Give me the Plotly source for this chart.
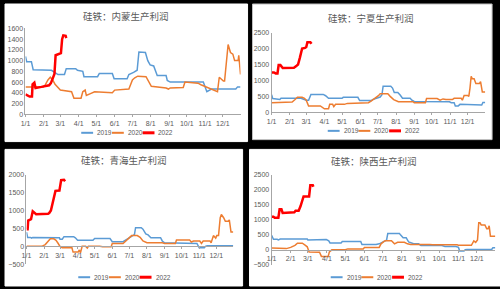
import plotly.graph_objects as go

# ---------------- data ----------------
series_names = ["2019", "2020", "2022"]
series_colors = ["#5B9BD5", "#ED7D31", "#FF0000"]
series_widths = [1.5, 1.5, 2.5]

titles = ["硅铁：内蒙生产利润", "硅铁：宁夏生产利润", "硅铁：青海生产利润", "硅铁：陕西生产利润"]
month_ticks = ["1/1", "2/1", "3/1", "4/1", "5/1", "6/1", "7/1", "8/1", "9/1", "10/1", "11/1", "12/1"]

# 内蒙
nm_2019_d = ["01-01","01-03","01-11","01-14","02-14","02-19","02-25","03-08","03-11","03-27","03-30","04-08","04-10","05-03","05-06","05-28","05-31","06-22","06-25","07-03","07-09","07-12","07-23","07-27","07-31","08-06","08-09","08-12","08-27","08-29","09-03","09-25","10-29","11-04","11-12","12-23","12-26","12-31"]
nm_2019_v = [1080,980,980,830,820,780,740,740,850,850,820,800,700,700,760,760,660,660,740,780,820,1160,1150,1000,920,900,800,720,720,630,600,600,600,420,470,470,510,510]
nm_2020_d = ["01-01","01-31","02-03","02-08","02-12","02-16","02-20","02-25","03-01","03-20","03-24","04-05","04-08","04-12","04-14","04-20","04-28","05-28","06-01","06-25","06-28","07-01","07-05","07-10","07-24","07-30","08-02","08-27","08-31","09-03","09-25","09-28","10-20","10-25","11-01","11-10","11-22","11-25","12-02","12-04","12-07","12-10","12-14","12-18","12-21","12-27","12-28","12-30","12-31"]
nm_2020_v = [510,510,540,640,690,640,560,500,450,420,300,300,420,450,350,380,420,400,450,470,550,640,680,710,700,580,520,490,470,490,500,600,580,550,520,470,420,690,620,620,1000,1300,1150,1120,1000,1000,1100,740,740]
nm_2022_d = ["01-01","01-05","01-08","01-12","01-13","01-16","01-18","01-28","02-05","02-10","02-13","02-16","02-19","02-21","02-26","03-02","03-04","03-06","03-10","03-11"]
nm_2022_v = [370,340,330,330,560,590,490,510,520,540,580,650,750,1100,1120,1140,1400,1470,1460,1420]

# 宁夏
nx_2019_d = ["01-01","01-03","01-15","01-17","02-20","03-01","03-05","03-09","03-30","04-03","04-08","05-01","05-03","05-28","05-31","06-20","06-22","06-30","07-05","07-08","07-10","07-23","07-26","07-29","08-04","08-08","08-12","08-25","08-28","09-01","10-31","11-03","11-08","11-10","11-15","11-18","12-20","12-25","12-27","12-31"]
nx_2019_v = [550,430,400,440,440,380,380,560,560,520,440,440,470,470,370,370,400,440,480,550,820,820,760,620,620,540,440,440,380,340,330,300,300,200,200,250,250,230,310,310]
nx_2020_d = ["01-01","01-31","02-05","02-10","02-14","02-22","02-26","03-01","03-05","03-25","03-28","04-01","04-08","04-10","04-15","04-17","04-20","05-05","05-10","05-30","06-01","06-15","06-20","06-28","07-02","07-05","07-18","07-22","07-28","08-05","08-30","09-01","09-20","09-22","10-10","10-15","10-20","10-25","11-05","11-08","11-20","11-22","11-25","12-01","12-03","12-05","12-07","12-09","12-12","12-15","12-21","12-23","12-26","12-31"]
nx_2020_v = [300,300,320,400,470,470,440,380,200,200,150,110,110,250,250,180,250,250,280,280,300,300,360,460,520,580,580,500,400,330,330,300,300,430,430,380,420,400,400,440,440,380,530,530,500,760,1130,1050,1050,900,900,960,640,640]
nx_2022_d = ["01-01","01-05","01-08","01-11","01-13","01-16","01-20","02-08","02-12","02-15","02-18","02-22","02-27","03-01","03-03","03-08","03-10"]
nx_2022_v = [1250,1250,1220,1220,1480,1480,1390,1400,1450,1500,1700,2000,2020,2050,2200,2200,2150]

# 青海
qh_2019_d = ["01-01","01-03","01-08","01-10","01-12","02-28","03-01","03-05","03-08","03-25","03-28","04-01","04-28","05-01","05-28","06-01","06-20","06-22","06-30","07-08","07-10","07-12","07-22","07-25","07-30","08-03","08-08","08-25","08-28","09-01","10-25","10-28","11-01","11-10","11-12","11-15","12-31"]
qh_2019_v = [400,250,250,230,250,240,200,200,270,270,240,170,170,220,220,130,130,150,220,300,330,520,520,480,350,320,240,240,150,100,100,80,-40,-40,0,20,20]
qh_2020_d = ["01-01","01-28","02-03","02-08","02-12","02-18","02-22","02-25","03-01","03-05","03-22","03-24","04-02","04-04","04-06","04-09","04-15","04-18","04-20","05-10","05-15","05-30","06-01","06-20","06-25","06-28","07-03","07-05","07-15","07-20","07-25","08-01","08-28","09-01","09-20","09-22","10-15","10-18","10-22","11-02","11-05","11-08","11-20","11-22","11-26","11-30","12-02","12-05","12-08","12-10","12-14","12-17","12-22","12-24","12-27","12-31"]
qh_2020_v = [0,0,50,150,210,210,170,100,0,-40,-40,-160,-160,-100,-180,0,0,-50,0,0,-10,-10,80,80,150,200,280,300,300,250,150,100,100,80,80,180,180,120,150,150,80,150,150,100,300,230,300,300,800,890,800,700,700,740,400,400]
qh_2022_d = ["01-01","01-03","01-04","01-09","01-12","01-15","01-18","02-08","02-10","02-13","02-16","02-18","02-21","02-28","03-03","03-08","03-10"]
qh_2022_v = [480,480,720,760,980,950,900,910,930,1000,1200,1300,1550,1560,1850,1860,1820]

# 陕西
sx_2019_d = ["01-01","01-04","01-10","01-12","01-15","02-28","03-01","03-05","03-08","03-31","04-04","04-06","04-24","04-26","05-26","05-28","06-20","06-25","07-03","07-07","07-09","07-28","07-30","08-03","08-08","08-12","08-20","08-28","09-01","10-05","10-10","10-28","11-01","11-03","11-10","11-12","11-15","12-25","12-27","12-31"]
sx_2019_v = [480,350,350,330,360,360,330,330,340,340,300,230,230,280,280,180,180,200,280,320,540,540,490,400,400,260,200,200,140,140,110,110,80,-40,-40,0,10,10,70,70]
sx_2020_d = ["01-01","01-20","01-25","02-01","02-08","02-12","02-20","02-25","02-28","03-03","03-20","03-23","04-03","04-05","04-09","05-01","05-05","05-30","06-01","06-25","06-28","07-03","07-05","07-15","07-20","07-25","08-05","08-10","08-15","09-15","09-20","10-30","11-01","11-15","11-22","11-26","11-29","12-02","12-04","12-06","12-08","12-14","12-17","12-19","12-21","12-23","12-31"]
sx_2020_v = [60,60,40,80,150,220,220,150,100,-70,-80,-220,-220,-70,0,0,30,30,80,80,200,280,300,300,200,250,250,200,180,180,170,170,150,150,150,300,250,330,900,900,830,830,700,700,800,450,450]
sx_2022_d = ["01-01","01-04","01-06","01-12","01-14","01-17","01-19","02-07","02-09","02-14","02-17","02-19","02-22","03-03","03-05","03-09","03-10"]
sx_2022_v = [1100,1100,1070,1070,1350,1350,1230,1250,1300,1300,1450,1600,1780,1780,2150,2150,2100]

panel_series = [
    [(nm_2019_d, nm_2019_v), (nm_2020_d, nm_2020_v), (nm_2022_d, nm_2022_v)],
    [(nx_2019_d, nx_2019_v), (nx_2020_d, nx_2020_v), (nx_2022_d, nx_2022_v)],
    [(qh_2019_d, qh_2019_v), (qh_2020_d, qh_2020_v), (qh_2022_d, qh_2022_v)],
    [(sx_2019_d, sx_2019_v), (sx_2020_d, sx_2020_v), (sx_2022_d, sx_2022_v)],
]
y_ranges = [(0, 1600, 200), (0, 2500, 500), (-500, 2000, 500), (-500, 2500, 500)]

# ---------------- layout geometry (pixels of a 500x289 canvas) ----------------
W, H = 500, 289
# plot area: x of Jan 1, x of Dec 31, y(px) of range min, y(px) of range max, y(px) of zero
plot_px = [
    (20.7, 237.9, 113.0, 25.0, 113.0),
    (269.3, 485.1, 111.0, 29.3, 111.0),
    (21.7, 230.6, 266.7, 175.0, 248.3),
    (269.3, 495.3, 267.3, 175.0, 251.7),
]
title_px = [(122, 12), (370, 14), (120, 160), (373, 161)]
legend_px = [(77, 132), (326, 130), (74, 280), (329, 280)]
panel_rects = [(0, 0, 245, 141), (250, 0, 492, 139), (0, 149, 240, 289), (247, 149, 500, 289)]

def px(x):
    return x / W

def py(y):
    return 1 - y / H

AXIS_COLOR = "#A6A6A6"
TEXT_COLOR = "#595959"
TICK_FONT = dict(family="Liberation Sans, Arial, sans-serif", size=7, color=TEXT_COLOR)

fig = go.Figure()
layout = dict(
    width=W, height=H, margin=dict(l=0, r=0, t=0, b=0),
    paper_bgcolor="black", plot_bgcolor="rgba(0,0,0,0)",
    showlegend=False, shapes=[], annotations=[],
)

for i in range(4):
    sfx = "" if i == 0 else str(i + 1)
    x0, x1, yb, yt, yz = plot_px[i]
    ymin, ymax, dt = y_ranges[i]
    xa = dict(
        domain=[px(x0), px(x1)], type="date",
        range=["2021-01-01", "2021-12-31"],
        tickmode="array",
        tickvals=["2021-%02d-01" % (m + 1) for m in range(12)],
        ticktext=month_ticks,
        showline=True, linecolor=AXIS_COLOR, linewidth=1,
        ticks="outside", ticklen=2, tickcolor=AXIS_COLOR,
        tickfont=TICK_FONT, showgrid=False, zeroline=False, fixedrange=True,
    )
    if ymin < 0:
        xa.update(anchor="free", position=py(yz))
    else:
        xa.update(anchor="y" + sfx)
    ya = dict(
        domain=[py(yb), py(yt)], range=[ymin, ymax], dtick=dt, tick0=0,
        anchor="x" + sfx, showline=True, linecolor=AXIS_COLOR, linewidth=1,
        ticks="", tickfont=TICK_FONT, showgrid=False, zeroline=False, fixedrange=True,
    )
    layout["xaxis" + sfx] = xa
    layout["yaxis" + sfx] = ya

    for k, (dates, vals) in enumerate(panel_series[i]):
        fig.add_trace(go.Scatter(
            x=["2021-" + d for d in dates], y=vals, mode="lines",
            name=series_names[k],
            line=dict(color=series_colors[k], width=series_widths[k]),
            xaxis="x" + sfx, yaxis="y" + sfx, hoverinfo="skip",
        ))

    # white panel background
    rx0, ry0, rx1, ry1 = panel_rects[i]
    layout["shapes"].append(dict(
        type="rect", xref="paper", yref="paper", layer="below",
        x0=px(rx0), x1=px(rx1), y0=py(ry1), y1=py(ry0),
        fillcolor="white", line=dict(width=1, color="#BFBFBF" if i == 1 else "white"),
    ))

    # title
    tx, ty = title_px[i]
    layout["annotations"].append(dict(
        text=titles[i], xref="paper", yref="paper", x=px(tx), y=py(ty),
        xanchor="center", yanchor="middle", showarrow=False,
        font=dict(family="Noto Sans CJK SC", size=9.5, color=TEXT_COLOR),
    ))

    # legend (line sample + label for each series)
    lx, ly = legend_px[i]
    for k in range(3):
        sx0 = lx + k * 31
        layout["shapes"].append(dict(
            type="line", xref="paper", yref="paper",
            x0=px(sx0), x1=px(sx0 + 12), y0=py(ly), y1=py(ly),
            line=dict(color=series_colors[k], width=series_widths[k] + 0.5),
        ))
        layout["annotations"].append(dict(
            text=series_names[k], xref="paper", yref="paper",
            x=px(sx0 + 14), y=py(ly), xanchor="left", yanchor="middle",
            showarrow=False, font=dict(family="Liberation Sans, Arial, sans-serif", size=6.5, color=TEXT_COLOR),
        ))

fig.update_layout(**layout)
fig.write_html("out.html")
